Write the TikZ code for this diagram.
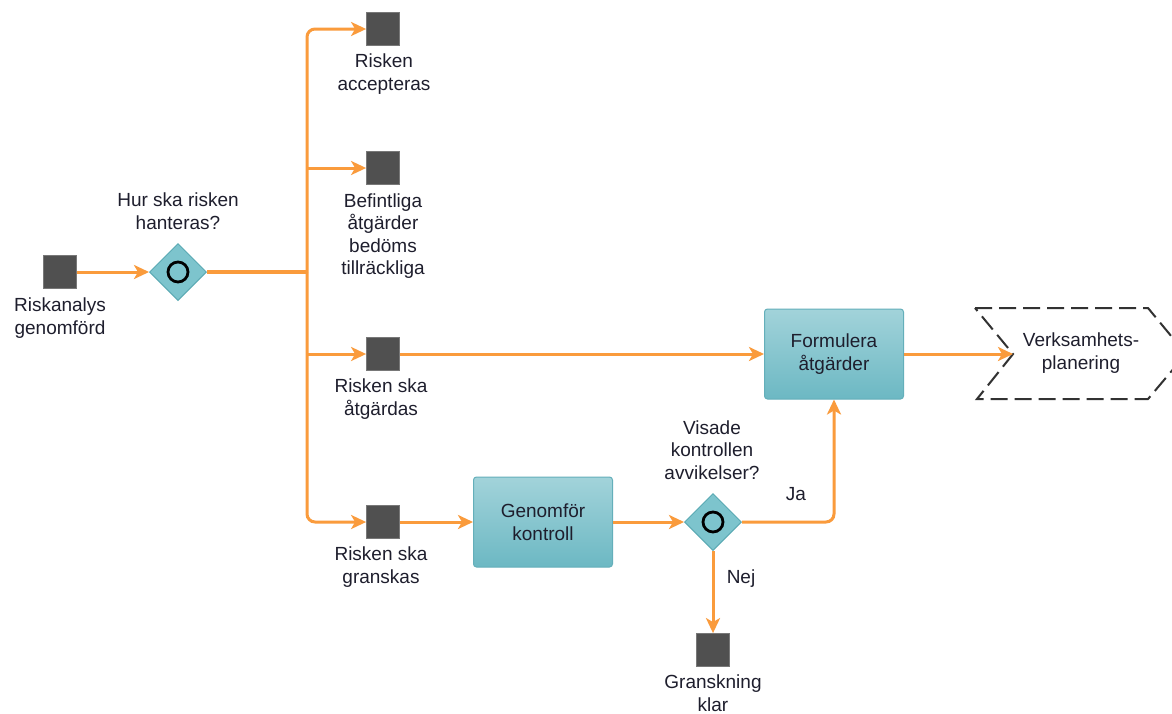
\documentclass[tikz,border=0pt]{standalone}
\usepackage{fontspec}
\setmainfont{Liberation Sans}
\usetikzlibrary{shapes.geometric,arrows.meta}
\definecolor{flowor}{RGB}{250,155,60}
\definecolor{evgray}{RGB}{80,80,80}
\definecolor{evline}{RGB}{120,120,120}
\definecolor{tealtop}{RGB}{162,211,218}
\definecolor{tealbot}{RGB}{108,184,195}
\definecolor{tealline}{RGB}{100,175,186}
\definecolor{gwfill}{RGB}{125,196,205}
\definecolor{gwline}{RGB}{90,170,180}
\definecolor{txt}{RGB}{30,30,45}
\definecolor{dashc}{RGB}{50,50,50}
\begin{document}
\begin{tikzpicture}[x=1pt,y=-1pt,
  every node/.style={text=txt, font=\fontsize{19}{22.5}\selectfont},
  flow/.style={draw=flowor, line width=3pt, -{Stealth[length=15pt,width=14pt,inset=4pt]}},
  plainflow/.style={draw=flowor, line width=3pt},
  ev/.style={draw=evline, line width=0.8pt, fill=evgray, minimum size=33pt, inner sep=0pt},
  lbl/.style={align=center, inner sep=0pt},
  task/.style={draw=tealline, line width=1pt, rounded corners=3pt, top color=tealtop, bottom color=tealbot, minimum width=139pt, minimum height=90pt, align=center, inner sep=0pt},
  gw/.style={shape=diamond, draw=gwline, line width=1pt, fill=gwfill, minimum width=57pt, minimum height=57pt, inner sep=0pt},
  ring/.style={draw=black, line width=2.8pt}
]
\clip (0,0) rectangle (1172,713);
\fill[white] (0,0) rectangle (1172,713);

% events
\node[ev] (s0) at (60,272) {};
\node[ev] (s1) at (383,29) {};
\node[ev] (s2) at (383,168) {};
\node[ev] (s3) at (383,354) {};
\node[ev] (s4) at (383,522) {};
\node[ev] (s5) at (713,650) {};

% gateways
\node[gw] (d1) at (178,272) {};
\draw[ring] (d1) circle (10);
\node[gw] (d2) at (713,522) {};
\draw[ring] (d2) circle (10);

% tasks
\node[task] (f) at (834,354) {Formulera\\åtgärder};
\node[task] (g) at (543,522) {Genomför\\kontroll};

% chevron
\coordinate (notch) at (1013,354);
\draw[dashc, line width=2pt, dash pattern=on 17pt off 7pt, line join=miter]
  (975,308) -- (1148,308) -- (1186,354) -- (1148,399) -- (977,399) -- (notch) -- cycle;
\node[lbl] (vp) at (1081,353) {Verksamhets-\\planering};

% labels
\node[lbl] (t0) at (60,318) {Riskanalys\\genomförd};
\node[lbl] (q1) at (178,211) {Hur ska risken\\hanteras?};
\node[lbl] (t1) at (384,74) {Risken\\accepteras};
\node[lbl] (t2) at (383,236) {Befintliga\\åtgärder\\bedöms\\tillräckliga};
\node[lbl] (t3) at (381,399) {Risken ska\\åtgärdas};
\node[lbl] (t4) at (381,567) {Risken ska\\granskas};
\node[lbl] (q2) at (712,450) {Visade\\kontrollen\\avvikelser?};
\node[lbl] (t5) at (713,693) {Granskning\\klar};
\node[lbl] (ja) at (796,494) {Ja};
\node[lbl] (nej) at (741,579) {Nej};

% connectors
\coordinate (br) at (307,272);
\draw[flow] (s0) -- (d1);
\draw[plainflow, line width=4.5pt] (d1.east) -- (br);
\draw[flow, rounded corners=8pt] (br) |- (s1);
\draw[flow] (s2 -| br) -- (s2);
\draw[flow] (s3 -| br) -- (s3);
\draw[flow, rounded corners=8pt] (br) |- (s4);
\draw[flow] (s3) -- (f);
\draw[flow] (f) -- (notch);
\draw[flow] (s4) -- (g);
\draw[flow] (g) -- (d2);
\draw[flow, rounded corners=8pt] (d2.east) -| (f.south);
\draw[flow] (d2.south) -- (s5);
\end{tikzpicture}
\end{document}
